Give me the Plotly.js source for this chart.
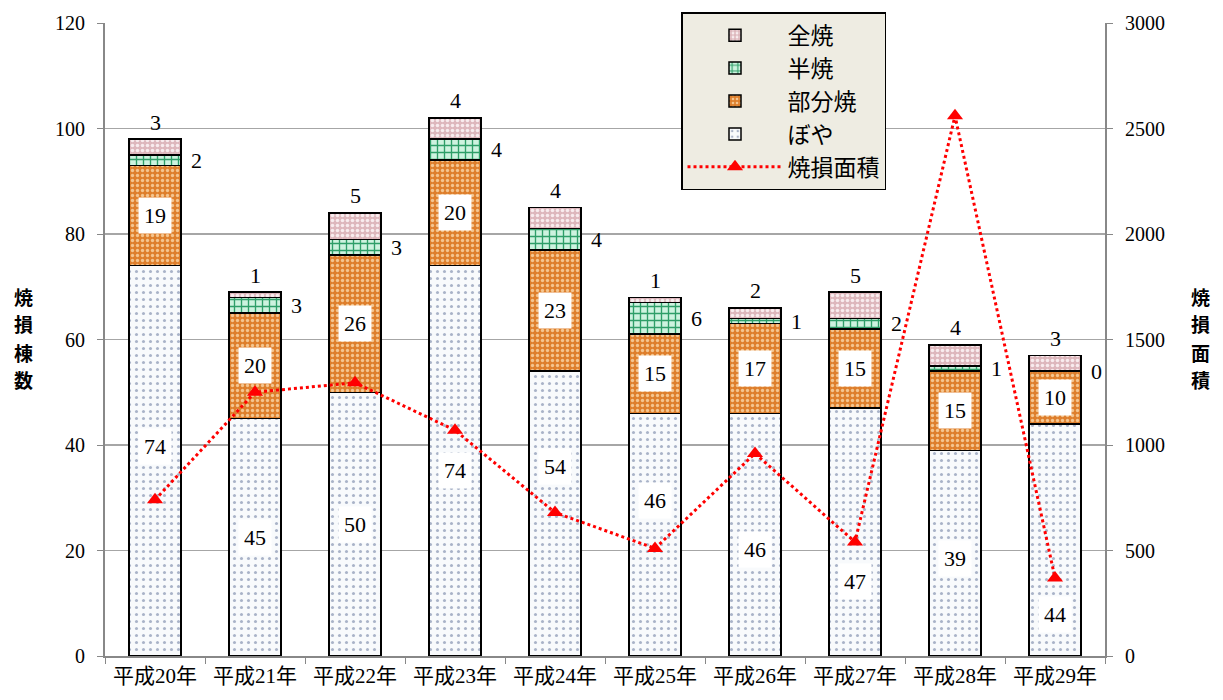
<!DOCTYPE html>
<html>
<head>
<meta charset="utf-8">
<script src="https://cdn.plot.ly/plotly-3.0.1.min.js"></script>
<style>body{margin:0;background:#fff}#chart{width:1223px;height:700px}</style>
</head>
<body>
<div id="chart"></div>
<script>
const years = ["平成20年","平成21年","平成22年","平成23年","平成24年","平成25年","平成26年","平成27年","平成28年","平成29年"];
const boya = [74,45,50,74,54,46,46,47,39,44];
const bubun = [19,20,26,20,23,15,17,15,15,10];
const hanshou = [2,3,3,4,4,6,1,2,1,0];
const zenshou = [3,1,5,4,4,1,2,5,4,3];
const area = [740,1250,1295,1070,680,510,960,540,2560,370];
// pixel offsets of the ぼや labels (placed by hand in the original)
const boyaLabelShift = [14,0,0,-10,47,34,-15,-49,-5,-75];

const FONT = "Liberation Serif, Noto Sans CJK JP, serif";
const GOTHIC = "Noto Sans CJK JP, sans-serif";
const line = {color:'#000', width:1.5};

const traces = [
  {type:'bar', name:'ぼや', x:years, y:boya, width:0.52, legendrank:4, legendgroup:'a',
   marker:{color:'#FFFFFF', line:line, pattern:{shape:'.', fgcolor:'#A9B3C8', bgcolor:'#F8FAFC', size:7, solidity:0.15}}},
  {type:'bar', name:'部分焼', x:years, y:bubun, width:0.52, legendrank:3, legendgroup:'b',
   marker:{color:'#E07F2A', line:line, pattern:{shape:'.', fgcolor:'#F4C58F', bgcolor:'#DE7F2C', size:5, solidity:0.35}}},
  {type:'bar', name:'半焼', x:years, y:hanshou, width:0.52, legendrank:2, legendgroup:'c',
   marker:{color:'#2E9E68', line:line, pattern:{shape:'+', fgcolor:'#2E9E68', bgcolor:'#CDF3DF', size:7, solidity:0.35}}},
  {type:'bar', name:'全焼', x:years, y:zenshou, width:0.52, legendrank:1, legendgroup:'d',
   marker:{color:'#E6C6CA', line:line, pattern:{shape:'.', fgcolor:'#F8ECEE', bgcolor:'#DDB7BC', size:5, solidity:0.4}}},
  {type:'scatter', mode:'lines+markers', name:'焼損面積', x:years, y:area, yaxis:'y2', legendrank:5, legendgroup:'e',
   line:{color:'#FF0000', width:3, dash:'dot'},
   marker:{symbol:'triangle-up', size:14, color:'#FF0000'}}
];

const ann = [];
for (let i=0;i<years.length;i++){
  ann.push({x:years[i], y:boya[i]/2, yshift:boyaLabelShift[i], text:String(boya[i]), showarrow:false, bgcolor:'#FFFFFF', borderpad:5,
    font:{family:FONT, size:22, color:'#000'}});
  ann.push({x:years[i], y:boya[i]+bubun[i]/2, text:String(bubun[i]), showarrow:false, bgcolor:'#FFFFFF', borderpad:5,
    font:{family:FONT, size:22, color:'#000'}});
  ann.push({x:years[i], y:boya[i]+bubun[i]+hanshou[i]/2, text:String(hanshou[i]), showarrow:false, xshift:41,
    font:{family:FONT, size:22, color:'#000'}});
  ann.push({x:years[i], y:boya[i]+bubun[i]+hanshou[i]+zenshou[i], text:String(zenshou[i]), showarrow:false, yshift:17,
    font:{family:FONT, size:22, color:'#000'}});
}
const leftTitle = ['焼','損','棟','数'];
const rightTitle = ['焼','損','面','積'];
const titleY = [296, 324, 352, 380];
for (let k=0;k<4;k++){
  ann.push({xref:'paper', yref:'paper', x:-0.082, y:(656-titleY[k])/633, xanchor:'center', yanchor:'middle', showarrow:false,
    text:'<b>'+leftTitle[k]+'</b>', font:{family:GOTHIC, size:19, color:'#000'}});
  ann.push({xref:'paper', yref:'paper', x:1.095, y:(656-titleY[k])/633, xanchor:'center', yanchor:'middle', showarrow:false,
    text:'<b>'+rightTitle[k]+'</b>', font:{family:GOTHIC, size:19, color:'#000'}});
}

const layout = {
  width:1223, height:700,
  margin:{l:105, r:118, t:23, b:44},
  paper_bgcolor:'#FFFFFF', plot_bgcolor:'#FFFFFF',
  barmode:'stack',
  font:{family:FONT, size:19, color:'#000'},
  xaxis:{type:'category', range:[-0.5, 9.5], automargin:false, tickson:'boundaries', ticks:'outside', ticklen:6, tickcolor:'#888', showline:true, linecolor:'#888', linewidth:2,
    showgrid:false, tickfont:{family:FONT, size:21}},
  yaxis:{range:[0,120], dtick:20, automargin:false, ticks:'outside', ticklen:6, tickcolor:'#888', showline:true, linecolor:'#888', linewidth:2,
    showgrid:true, gridcolor:'#A6A6A6', gridwidth:1.5, zeroline:false, tickfont:{family:FONT, size:20}, ticklabelstandoff:8},
  yaxis2:{range:[0,3000], dtick:500, automargin:false, overlaying:'y', side:'right', ticks:'outside', ticklen:6, tickcolor:'#888', showline:true,
    linecolor:'#888', linewidth:2, showgrid:false, zeroline:false, tickfont:{family:FONT, size:20}, ticklabelstandoff:8},
  legend:{x:0.576, y:1.017, xanchor:'left', yanchor:'top', bgcolor:'#EEECE2', bordercolor:'#000', borderwidth:1.5,
    traceorder:'normal', font:{family:GOTHIC, size:23, color:'#000'}, itemwidth:95, tracegroupgap:12},
  annotations:ann,
  showlegend:true
};

Plotly.newPlot('chart', traces, layout, {displayModeBar:false, staticPlot:true});
</script>
</body>
</html>
